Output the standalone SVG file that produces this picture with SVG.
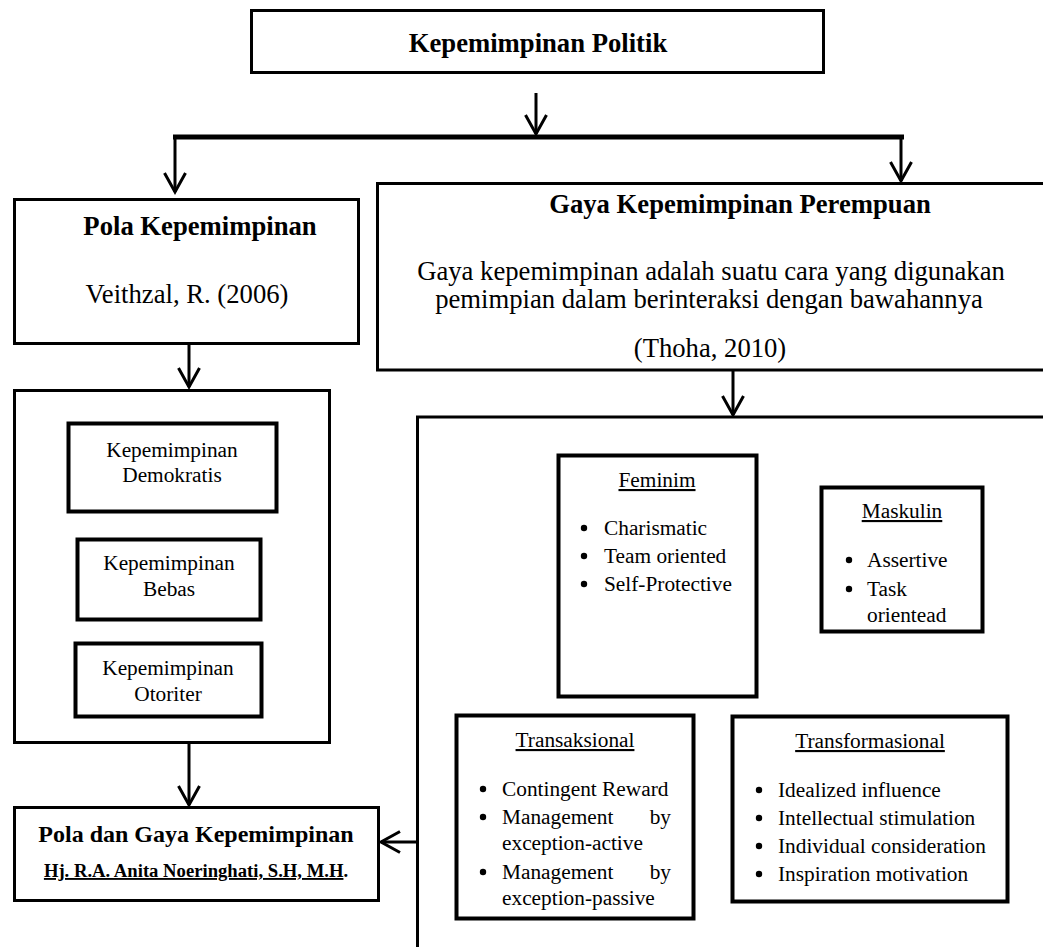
<svg xmlns="http://www.w3.org/2000/svg" width="1043" height="947" viewBox="0 0 1043 947">
<style>
.box{fill:#fff;stroke:#000;stroke-width:3}
.tbox{fill:#fff;stroke:#000;stroke-width:4}
.con{fill:none;stroke:#000;stroke-width:3}
.bar{fill:none;stroke:#000;stroke-width:5}
text{font-family:"Liberation Serif","Times New Roman",serif;fill:#000}
.h{font-size:26.67px;font-weight:bold;text-anchor:middle}
.b{font-size:26.67px;text-anchor:middle}
.s{font-size:21.33px;text-anchor:middle}
.l{font-size:21.33px}
.u{text-decoration:underline}
.dot{fill:#000}
</style>
<defs>
<marker id="ah" markerUnits="userSpaceOnUse" orient="auto" overflow="visible" markerWidth="1" markerHeight="1" refX="0" refY="0">
<path d="M-19,-10.5 L0,0 L-19,10.5" fill="none" stroke="#000" stroke-width="3"/>
</marker>
</defs>

<g id="connectors">
<line class="con" x1="536" y1="93" x2="536" y2="134" marker-end="url(#ah)"/>
<line class="bar" x1="173" y1="137" x2="904" y2="137"/>
<line class="con" x1="175" y1="137" x2="175" y2="192" marker-end="url(#ah)"/>
<line class="con" x1="901" y1="137" x2="901" y2="181" marker-end="url(#ah)"/>
<line class="con" x1="189" y1="344" x2="189" y2="387" marker-end="url(#ah)"/>
<line class="con" x1="733" y1="370" x2="733" y2="415" marker-end="url(#ah)"/>
<line class="con" x1="189" y1="743" x2="189" y2="805" marker-end="url(#ah)"/>
<line class="con" x1="417" y1="842" x2="381" y2="842" marker-end="url(#ah)"/>
</g>

<g id="kepemimpinan-politik">
<rect class="box" x="251.5" y="10.5" width="572" height="62"/>
<text class="h" x="538" y="52">Kepemimpinan Politik</text>
</g>

<g id="pola-kepemimpinan">
<rect class="box" x="14.5" y="199.5" width="344" height="144"/>
<text class="h" x="200" y="235">Pola Kepemimpinan</text>
<text class="b" x="187" y="303">Veithzal, R. (2006)</text>
</g>

<g id="gaya-kepemimpinan">
<path class="box" d="M1046,183.5 H377.5 V370 H1046"/>
<text class="h" x="740" y="213">Gaya Kepemimpinan Perempuan</text>
<text class="b" x="711" y="280">Gaya kepemimpinan adalah suatu cara yang digunakan</text>
<text class="b" x="709" y="308">pemimpian dalam berinteraksi dengan bawahannya</text>
<text class="b" x="710" y="357">(Thoha, 2010)</text>
</g>

<g id="pola-list">
<rect class="box" x="14.5" y="390.5" width="315" height="352"/>
</g>

<g id="demokratis">
<rect class="tbox" x="68.5" y="423.5" width="208" height="88"/>
<text class="s" x="172" y="457">Kepemimpinan</text>
<text class="s" x="172" y="482">Demokratis</text>
</g>

<g id="bebas">
<rect class="tbox" x="77.5" y="539.5" width="183" height="80"/>
<text class="s" x="169" y="570">Kepemimpinan</text>
<text class="s" x="169" y="596">Bebas</text>
</g>

<g id="otoriter">
<rect class="tbox" x="75.5" y="643.5" width="186" height="73"/>
<text class="s" x="168" y="675">Kepemimpinan</text>
<text class="s" x="168" y="701">Otoriter</text>
</g>

<g id="pola-dan-gaya">
<rect class="box" x="14.5" y="807.5" width="364" height="93"/>
<text x="196" y="842" style="font-size:24px;font-weight:bold;text-anchor:middle">Pola dan Gaya Kepemimpinan</text>
<text x="196" y="877" style="font-size:18.67px;font-weight:bold;text-anchor:middle"><tspan class="u">Hj. R.A. Anita Noeringhati, S.H, M.H</tspan>.</text>
</g>

<g id="gaya-list">
<path class="box" d="M1046,417 H417.5 V947" style="fill:none"/>
</g>

<g id="feminim">
<rect class="tbox" x="558.5" y="455.5" width="198" height="241"/>
<text class="s u" x="657" y="487">Feminim</text>
<circle class="dot" cx="584" cy="528" r="3.2"/>
<text class="l" x="604" y="535">Charismatic</text>
<circle class="dot" cx="584" cy="556" r="3.2"/>
<text class="l" x="604" y="563">Team oriented</text>
<circle class="dot" cx="584" cy="584" r="3.2"/>
<text class="l" x="604" y="591">Self-Protective</text>
</g>

<g id="maskulin">
<rect class="tbox" x="821.5" y="487.5" width="161" height="144"/>
<text class="s u" x="902" y="518">Maskulin</text>
<circle class="dot" cx="849" cy="560" r="3.2"/>
<text class="l" x="867" y="567">Assertive</text>
<circle class="dot" cx="849" cy="589" r="3.2"/>
<text class="l" x="867" y="596">Task</text>
<text class="l" x="867" y="622">orientead</text>
</g>

<g id="transaksional">
<rect class="tbox" x="456.5" y="715.5" width="237" height="203"/>
<text class="s u" x="575" y="747">Transaksional</text>
<circle class="dot" cx="483" cy="789" r="3.2"/>
<text class="l" x="502" y="796">Contingent Reward</text>
<circle class="dot" cx="483" cy="817" r="3.2"/>
<text class="l" x="502" y="824">Management</text>
<text class="l" x="671" y="824" text-anchor="end">by</text>
<text class="l" x="502" y="850">exception-active</text>
<circle class="dot" cx="483" cy="872" r="3.2"/>
<text class="l" x="502" y="879">Management</text>
<text class="l" x="671" y="879" text-anchor="end">by</text>
<text class="l" x="502" y="905">exception-passive</text>
</g>

<g id="transformasional">
<rect class="tbox" x="732.5" y="716.5" width="275" height="185"/>
<text class="s u" x="870" y="748">Transformasional</text>
<circle class="dot" cx="759" cy="790" r="3.2"/>
<text class="l" x="778" y="797">Idealized influence</text>
<circle class="dot" cx="759" cy="818" r="3.2"/>
<text class="l" x="778" y="825">Intellectual stimulation</text>
<circle class="dot" cx="759" cy="846" r="3.2"/>
<text class="l" x="778" y="853">Individual consideration</text>
<circle class="dot" cx="759" cy="874" r="3.2"/>
<text class="l" x="778" y="881">Inspiration motivation</text>
</g>
</svg>
